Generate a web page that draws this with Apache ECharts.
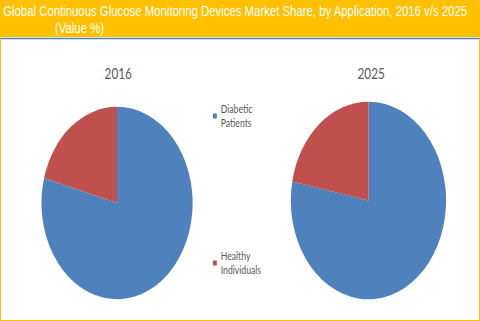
<!DOCTYPE html>
<html>
<head>
<meta charset="utf-8">
<script src="https://cdn.jsdelivr.net/npm/echarts@6/dist/echarts.min.js"></script>
<style>
html,body{margin:0;padding:0;background:#fff;}
#wrap{position:relative;width:480px;height:321px;overflow:hidden;}
#chart{position:absolute;left:0;top:0;width:611px;height:321px;transform:scaleX(0.785597);transform-origin:0 0;}
#frame{position:absolute;left:0;top:0;width:480px;height:321px;box-sizing:border-box;border:1px solid #FFC000;pointer-events:none;}
</style>
</head>
<body>
<div id="wrap"><div id="chart"></div><div id="frame"></div></div>
<script>
// ---- data ----
const titleLine1 = 'Global Continuous Glucose Monitoring Devices Market Share, by Application, 2016 v/s 2025';
const titleLine2 = '(Value %)';
const categories = ['Diabetic Patients', 'Healthy Individuals'];
const legendLabels = ['Diabetic\nPatients', 'Healthy\nIndividuals'];
const years = ['2016', '2025'];
const values2016 = [79.2, 20.8];
const values2025 = [78.1, 21.9];
const colors = ['#4F81BD', '#C0504D'];

const chart = echarts.init(document.getElementById('chart'), null, {renderer: 'svg'});

function pieData(vals) {
  return categories.map((c, i) => ({name: c, value: vals[i], itemStyle: {color: colors[i]}}));
}
const legendText = {};
categories.forEach((c, i) => legendText[c] = legendLabels[i]);

const legendCommon = {
  orient: 'vertical',
  left: 271,
  padding: 0,
  itemWidth: 5,
  itemHeight: 5,
  icon: 'rect',
  selectedMode: false,
  formatter: n => legendText[n],
  textStyle: {fontFamily: 'Lato', fontSize: 11, color: '#595959', lineHeight: 14, padding: [14, 0, 0, 0]}
};

chart.setOption({
  animation: false,
  legend: [
    Object.assign({}, legendCommon, {top: 95, data: [categories[0]]}),
    Object.assign({}, legendCommon, {top: 242, data: [categories[1]]})
  ],
  graphic: [
    {type: 'rect', shape: {x: 0, y: 0, width: 611, height: 37}, style: {fill: '#FFC000'}, silent: true},
    {type: 'rect', shape: {x: 0, y: 37.8, width: 611, height: 1.4}, style: {fill: '#4F81BD'}, silent: true},
    {type: 'text', x: 4, y: 11, style: {text: titleLine1, fill: '#fff', font: '14.5px "Liberation Sans"', textAlign: 'left', textVerticalAlign: 'middle'}},
    {type: 'text', x: 70, y: 27.5, style: {text: titleLine2, fill: '#fff', font: '14.5px "Liberation Sans"', textAlign: 'left', textVerticalAlign: 'middle'}},
    {type: 'text', x: 150.5, y: 73.5, style: {text: years[0], fill: '#595959', font: '15px Lato', textAlign: 'center', textVerticalAlign: 'middle'}},
    {type: 'text', x: 472.5, y: 73.5, style: {text: years[1], fill: '#595959', font: '15px Lato', textAlign: 'center', textVerticalAlign: 'middle'}}
  ],
  series: [
    {type: 'pie', name: years[0], center: [149, 203], radius: 96.2, startAngle: 90, clockwise: true,
     label: {show: false}, labelLine: {show: false}, emphasis: {disabled: true}, silent: true,
     data: pieData(values2016)},
    {type: 'pie', name: years[1], center: [469, 200.5], radius: 98.8, startAngle: 90, clockwise: true,
     label: {show: false}, labelLine: {show: false}, emphasis: {disabled: true}, silent: true,
     data: pieData(values2025)}
  ]
});
</script>
</body>
</html>
